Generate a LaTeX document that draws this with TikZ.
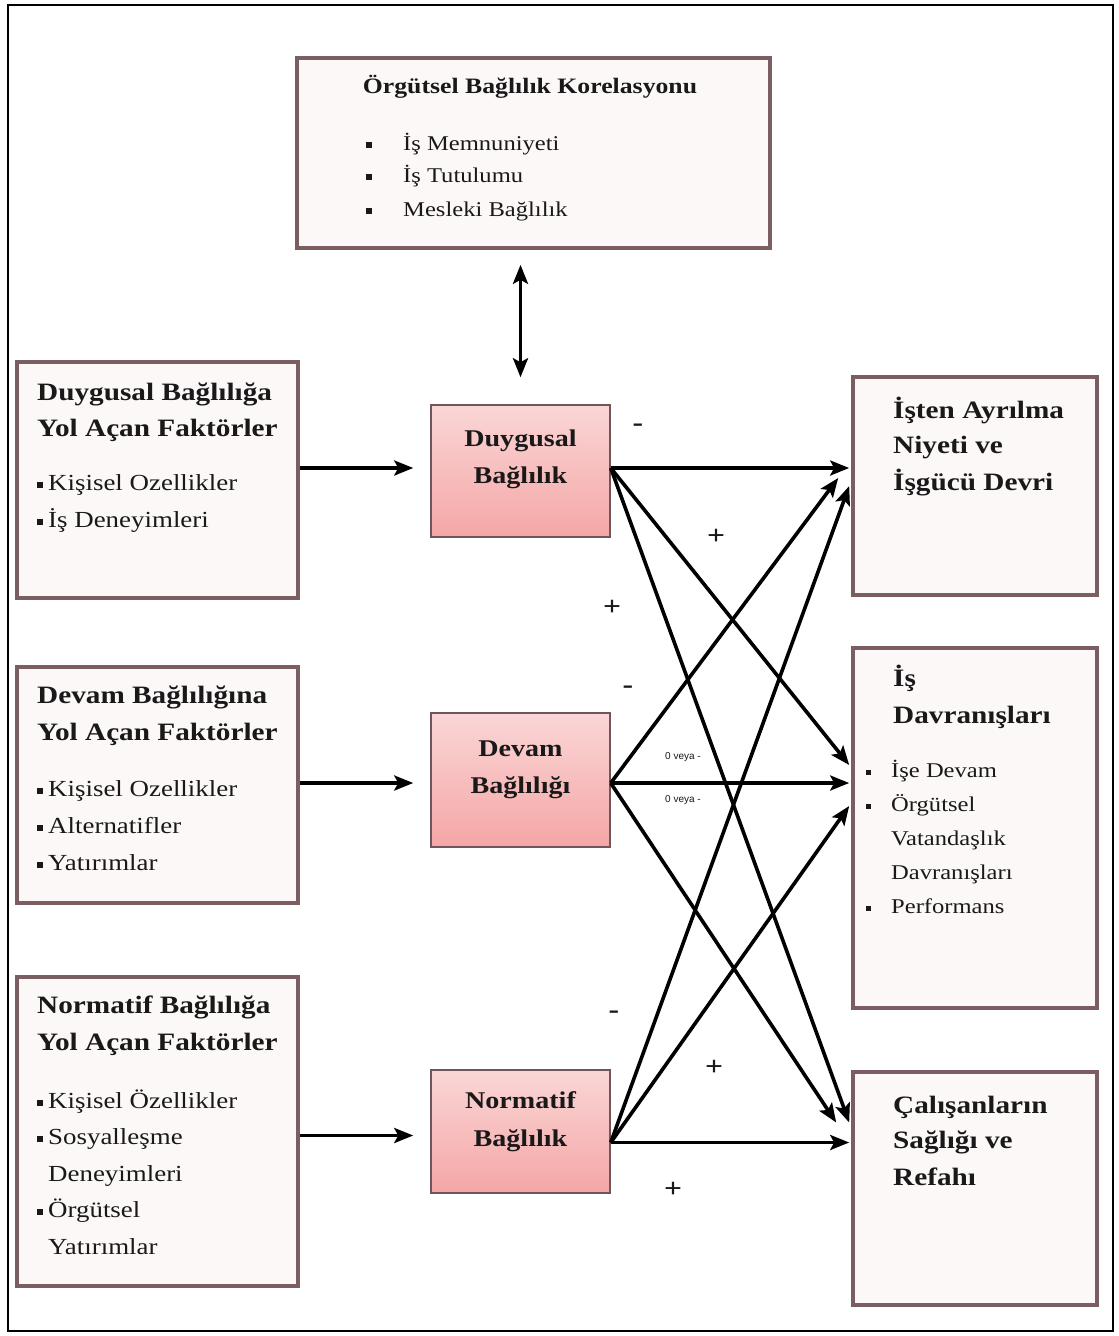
\documentclass[tikz,border=0pt]{standalone}
\usepackage{fontspec}
\setmainfont{Liberation Serif}[FakeStretch=1.17]
\newfontfamily\labelsans{Liberation Sans}
\usetikzlibrary{arrows.meta,calc}

\definecolor{boxline}{RGB}{123,94,98}
\definecolor{boxfill}{RGB}{253,248,248}
\definecolor{pinktop}{RGB}{250,214,214}
\definecolor{pinkbot}{RGB}{245,166,166}
\definecolor{pinkline}{RGB}{112,86,90}
\definecolor{ink}{RGB}{25,25,25}

% square bullets of the item lists
\newcommand\sqbullet[2]{\rule[2.4pt]{#1}{#1}\hspace{#2}}

\tikzset{
  outerbox/.style={draw=boxline, line width=3.6pt, fill=boxfill, inner sep=0pt},
  corebox/.style={draw=pinkline, line width=1.5pt, top color=pinktop, bottom color=pinkbot, inner sep=0pt},
  ttl/.style={font=\bfseries\fontsize{25}{30}\selectfont, text=ink, anchor=base west, inner sep=0pt},
  itm/.style={font=\fontsize{23}{28}\selectfont, text=ink, anchor=base west, inner sep=0pt},
  topttl/.style={font=\bfseries\fontsize{22}{26}\selectfont, text=ink, anchor=base, inner sep=0pt},
  topitm/.style={font=\fontsize{21}{25}\selectfont, text=ink, anchor=base west, inner sep=0pt},
  corettl/.style={font=\bfseries\fontsize{24}{28}\selectfont, text=ink, anchor=base, inner sep=0pt},
  outitm/.style={font=\fontsize{21}{25}\selectfont, text=ink, anchor=base west, inner sep=0pt},
  sign/.style={font=\bfseries\fontsize{27}{30}\selectfont, text=ink, inner sep=0pt},
  tiny/.style={font=\labelsans\fontsize{10}{12}\selectfont, text=ink, inner sep=0pt},
  tip/.style={Stealth[length=19pt,width=15pt,inset=4pt]},
  conn/.style={line width=3.6pt, -{Stealth[length=19pt,width=15pt,inset=4pt]}},
  dbl/.style={line width=3.6pt, {Stealth[length=19pt,width=15pt,inset=4pt]}-{Stealth[length=19pt,width=15pt,inset=4pt]}}
}

\begin{document}
\begin{tikzpicture}[x=1pt,y=-1pt]
\useasboundingbox (0,0) rectangle (1119,1336);
\fill[white] (0,0) rectangle (1119,1336);
\draw[line width=1.8pt] (8,5) rectangle (1113,1331);

% ---------- boxes ----------
\node[outerbox, minimum width=473pt, minimum height=190pt] (top) at (533.5,153) {};
\node[outerbox, minimum width=281pt, minimum height=236pt] (l1) at (157.5,480) {};
\node[outerbox, minimum width=281pt, minimum height=236pt] (l2) at (157.5,785) {};
\node[outerbox, minimum width=281pt, minimum height=309pt] (l3) at (157.5,1131.5) {};
\node[corebox, minimum width=179pt, minimum height=132pt] (p1) at (520.5,471) {};
\node[corebox, minimum width=179pt, minimum height=134pt] (p2) at (520.5,780) {};
\node[corebox, minimum width=179pt, minimum height=123pt] (p3) at (520.5,1131.5) {};
\node[outerbox, minimum width=244pt, minimum height=218pt] (r1) at (975,486) {};
\node[outerbox, minimum width=244pt, minimum height=360pt] (r2) at (975,828) {};
\node[outerbox, minimum width=244pt, minimum height=233pt] (r3) at (975,1188.5) {};

% ---------- top box text ----------
\node[topttl] (toph) at (530,93) {Örgütsel Bağlılık Korelasyonu};
\foreach \yy/\s [count=\i] in {150/{İş Memnuniyeti}, 182/{İş Tutulumu}, 216/{Mesleki Bağlılık}}
  \node[topitm] (topi\i) at (366,\yy) {\sqbullet{6pt}{31pt}\s};

% ---------- left boxes text ----------
\foreach \yy/\s [count=\i] in {400/{Duygusal Bağlılığa}, 436/{Yol Açan Faktörler}}
  \node[ttl] (l1h\i) at (37,\yy) {\s};
\foreach \yy/\s [count=\i] in {490/{Kişisel Ozellikler}, 527/{İş Deneyimleri}}
  \node[itm] (l1i\i) at (37,\yy) {\sqbullet{6pt}{5pt}\s};

\foreach \yy/\s [count=\i] in {703/{Devam Bağlılığına}, 740/{Yol Açan Faktörler}}
  \node[ttl] (l2h\i) at (37,\yy) {\s};
\foreach \yy/\s [count=\i] in {796/{Kişisel Ozellikler}, 833/{Alternatifler}, 870/{Yatırımlar}}
  \node[itm] (l2i\i) at (37,\yy) {\sqbullet{6pt}{5pt}\s};

\foreach \yy/\s [count=\i] in {1013/{Normatif Bağlılığa}, 1050/{Yol Açan Faktörler}}
  \node[ttl] (l3h\i) at (37,\yy) {\s};
\node[itm] (l3i1) at (37,1108) {\sqbullet{6pt}{5pt}Kişisel Özellikler};
\node[itm] (l3i2) at (37,1144.5) {\sqbullet{6pt}{5pt}Sosyalleşme};
\node[itm] (l3i3) at (48,1181) {Deneyimleri};
\node[itm] (l3i4) at (37,1217.5) {\sqbullet{6pt}{5pt}Örgütsel};
\node[itm] (l3i5) at (48,1254) {Yatırımlar};

% ---------- core commitment boxes text ----------
\node[corettl] (p1a) at (520.5,446) {Duygusal};
\node[corettl] (p1b) at (520.5,483) {Bağlılık};
\node[corettl] (p2a) at (520.5,756) {Devam};
\node[corettl] (p2b) at (520.5,793) {Bağlılığı};
\node[corettl] (p3a) at (520.5,1108) {Normatif};
\node[corettl] (p3b) at (520.5,1146) {Bağlılık};

% ---------- outcome boxes text ----------
\foreach \yy/\s [count=\i] in {418/{İşten Ayrılma}, 453/{Niyeti ve}, 490/{İşgücü Devri}}
  \node[ttl] (r1h\i) at (893,\yy) {\s};
\foreach \yy/\s [count=\i] in {686/{İş}, 723/{Davranışları}}
  \node[ttl] (r2h\i) at (893,\yy) {\s};
\node[outitm] (r2i1) at (866,777) {\sqbullet{5pt}{20pt}İşe Devam};
\node[outitm] (r2i2) at (866,811) {\sqbullet{5pt}{20pt}Örgütsel};
\node[outitm] (r2i3) at (891,845) {Vatandaşlık};
\node[outitm] (r2i4) at (891,879) {Davranışları};
\node[outitm] (r2i5) at (866,913) {\sqbullet{5pt}{20pt}Performans};
\foreach \yy/\s [count=\i] in {1113/{Çalışanların}, 1148/{Sağlığı ve}, 1185/{Refahı}}
  \node[ttl] (r3h\i) at (893,\yy) {\s};

% ---------- connectors ----------
\draw[dbl] ($(top.south -| p1.north)+(0,15)$) -- ($(p1.north)+(0,-27)$);

\draw[conn] ($(l1.east |- p1.west)+(0,-3)$) -- ($(p1.west)+(-17,-3)$);
\draw[conn] ($(l2.east |- p2.west)+(0,3)$) -- ($(p2.west)+(-17,3)$);
\draw[conn] ($(l3.east |- p3.west)+(0,4)$) -- ($(p3.west)+(-17,4)$);

\draw[conn] ($(p1.east)+(0,-3)$) -- ($(r1.west)+(-2,-18)$);
\draw[conn] ($(p1.east)+(0,-3)$) -- ($(r2.west)+(-2,-63)$);
\draw[conn] ($(p1.east)+(0,-3)$) -- ($(r3.west)+(-2,-66)$);

\draw[conn] ($(p2.east)+(0,3)$) -- ($(r1.west)+(-13,-8)$);
\draw[conn] ($(p2.east)+(0,3)$) -- ($(r2.west)+(-2,-45)$);
\draw[conn] ($(p2.east)+(0,3)$) -- ($(r3.west)+(-15,-66)$);

\draw[conn] ($(p3.east)+(0,11)$) -- ($(r1.west)+(-2,0)$);
\draw[conn] ($(p3.east)+(0,11)$) -- ($(r2.west)+(-2,-22)$);
\draw[conn] ($(p3.east)+(0,11)$) -- ($(r3.west)+(-2,-46)$);

% ---------- signs ----------
\node[sign] (s1) at (638,428) {-};
\node[sign] (s2) at (716,537) {+};
\node[sign] (s3) at (612,608) {+};
\node[sign] (s4) at (628,690) {-};
\node[tiny] (s5) at (683,757) {0 veya -};
\node[tiny] (s6) at (683,800) {0 veya -};
\node[sign] (s7) at (614,1015) {-};
\node[sign] (s8) at (714,1068) {+};
\node[sign] (s9) at (673,1190) {+};
\end{tikzpicture}
\end{document}
